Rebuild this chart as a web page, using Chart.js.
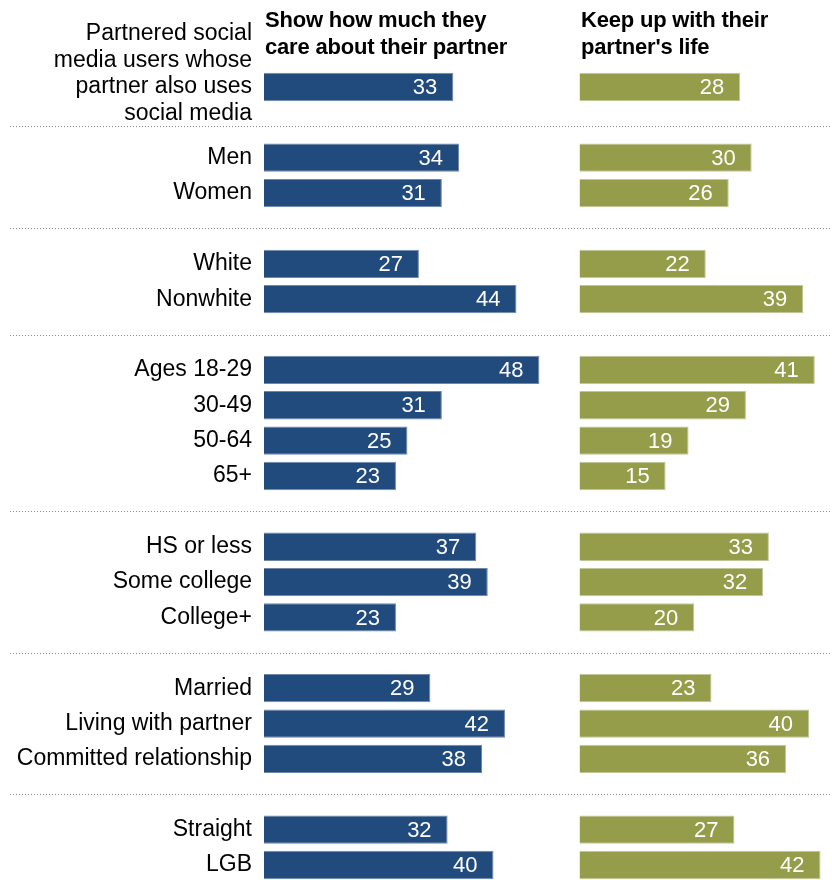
<!DOCTYPE html>
<html>
<head>
<meta charset="utf-8">
<script src="https://cdn.jsdelivr.net/npm/chart.js@4/dist/chart.umd.min.js"></script>
<style>
  html, body { margin: 0; padding: 0; background: #fff; overflow: hidden; }
  #wrap { position: relative; width: 832px; height: 880px; }
  canvas { position: absolute; left: 0; top: 0; }
  .head {
    position: absolute; top: 6px;
    font-family: "Liberation Sans", Arial, sans-serif;
    font-weight: bold; font-size: 22px; line-height: 27px; color: #000;
    letter-spacing: -0.2px;
  }
</style>
</head>
<body>
<div id="wrap">
  <canvas id="chart" width="832" height="900"></canvas>
  <div class="head" style="left:265px">Show how much they<br>care about their partner</div>
  <div class="head" style="left:581px">Keep up with their<br>partner's life</div>
</div>
<script>
// rows, "" = gap between groups
// (last empty line of the first label pushes the text block up a bit)
const categories = [
  ["Partnered social", "media users whose", "partner also uses", "social media", ""],
  "",
  "Men", "Women",
  "",
  "White", "Nonwhite",
  "",
  "Ages 18-29", "30-49", "50-64", "65+",
  "",
  "HS or less", "Some college", "College+",
  "",
  "Married", "Living with partner", "Committed relationship",
  "",
  "Straight", "LGB"
];
const showCare = [33, null, 34, 31, null, 27, 44, null, 48, 31, 25, 23, null, 37, 39, 23, null, 29, 42, 38, null, 32, 40];
const keepUp   = [28, null, 30, 26, null, 22, 39, null, 41, 29, 19, 15, null, 33, 32, 20, null, 23, 40, 36, null, 27, 42];

const FONT = '"Liberation Sans", Arial, sans-serif';

// dotted lines on the gap rows
const separators = {
  id: 'separators',
  beforeDatasetsDraw(chart) {
    const ctx = chart.ctx;
    const y = chart.scales.y;
    ctx.save();
    ctx.strokeStyle = '#8a8a8a';
    ctx.lineWidth = 1;
    ctx.setLineDash([1, 2]);
    categories.forEach((c, i) => {
      if (c !== '') return;
      let py = Math.round(y.getPixelForValue(i)) + 0.5;
      if (i === 1) py += 4;
      ctx.beginPath();
      ctx.moveTo(10, py);
      ctx.lineTo(831, py);
      ctx.stroke();
    });
    ctx.restore();
  }
};

// numbers inside the bars
const valueLabels = {
  id: 'valueLabels',
  afterDatasetsDraw(chart) {
    const ctx = chart.ctx;
    ctx.save();
    ctx.fillStyle = '#fff';
    ctx.font = '22px ' + FONT;
    ctx.textAlign = 'right';
    ctx.textBaseline = 'middle';
    chart.data.datasets.forEach((ds, di) => {
      chart.getDatasetMeta(di).data.forEach((bar, i) => {
        if (ds.data[i] == null) return;
        ctx.fillText(ds.data[i], bar.x - 16, bar.y + 1);
      });
    });
    ctx.restore();
  }
};

new Chart(document.getElementById('chart'), {
  type: 'bar',
  data: {
    labels: categories,
    datasets: [
      {
        label: 'Show how much they care about their partner',
        data: showCare,
        xAxisID: 'x',
        backgroundColor: '#214a7d',
        borderColor: '#6f88aa',
        borderWidth: 1,
        grouped: false,
        barPercentage: 0.8,
        categoryPercentage: 1
      },
      {
        label: "Keep up with their partner's life",
        data: keepUp,
        xAxisID: 'x2',
        backgroundColor: '#959d4a',
        borderColor: '#c2c79a',
        borderWidth: 1,
        grouped: false,
        barPercentage: 0.8,
        categoryPercentage: 1
      }
    ]
  },
  options: {
    indexAxis: 'y',
    responsive: false,
    animation: false,
    layout: { padding: { top: 69.3, bottom: 17.3, left: 0, right: 0 } },
    plugins: {
      legend: { display: false },
      tooltip: { enabled: false }
    },
    scales: {
      x: { display: false, min: 0, max: 99 },
      x2: { display: false, min: -55, max: 44 },
      y: {
        afterFit(scale) {
          scale.width = 264;
          scale.paddingTop = 0;
          scale.paddingBottom = 0;
        },
        grid: { display: false, drawTicks: false },
        border: { display: false },
        ticks: {
          padding: 12,
          color: '#000',
          autoSkip: false,
          font: { family: FONT, size: 23, lineHeight: 1.16 }
        }
      }
    }
  },
  plugins: [separators, valueLabels]
});
</script>
</body>
</html>
